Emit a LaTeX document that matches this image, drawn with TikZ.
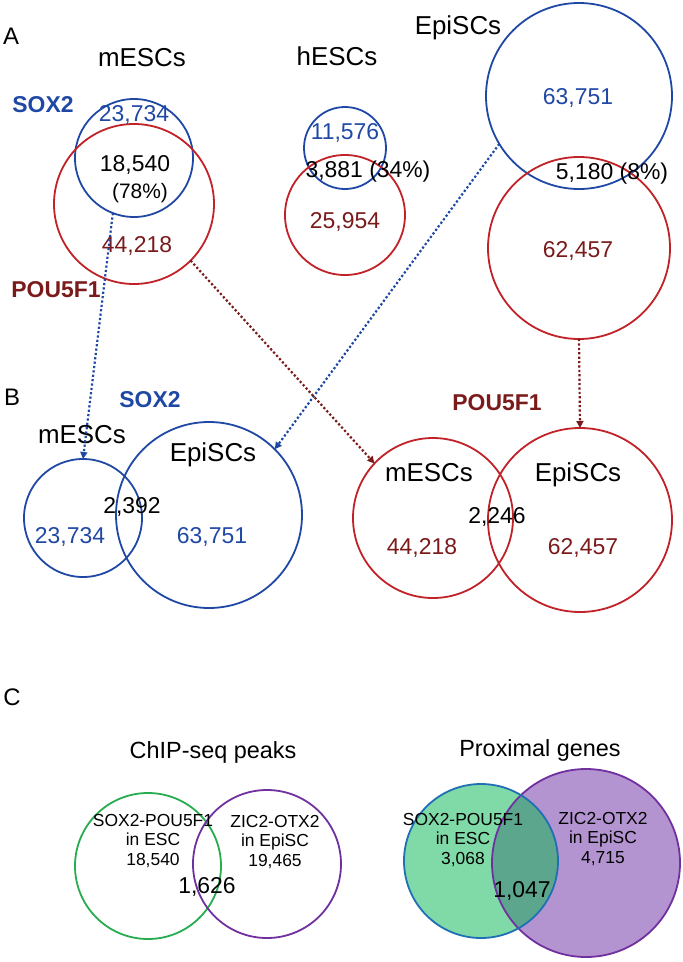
\documentclass[tikz,border=0pt]{standalone}
\usepackage{fontspec}
\setmainfont{Liberation Sans}
\usetikzlibrary{arrows.meta}

\definecolor{soxblue}{RGB}{31,72,165}
\definecolor{pouring}{RGB}{192,34,40}
\definecolor{poutext}{RGB}{122,26,26}
\definecolor{cgreen}{RGB}{40,172,80}
\definecolor{cpurple}{RGB}{112,48,160}
\definecolor{gfill}{RGB}{128,218,168}
\definecolor{vfill}{RGB}{180,148,208}
\definecolor{ofill}{RGB}{92,166,142}
\definecolor{gborder}{RGB}{31,111,181}

\tikzset{
  ring/.style={circle,inner sep=0pt,outer sep=0pt,line width=1.8bp,minimum size=#1},
  soxring/.style={ring=#1,draw=soxblue},
  pouring/.style={ring=#1,draw=pouring},
  lett/.style={font=\fontsize{24}{28}\selectfont},
  head/.style={font=\fontsize{26}{31}\selectfont},
  num/.style={font=\fontsize{23}{27}\selectfont},
  soxnum/.style={num,text=soxblue},
  pounum/.style={num,text=poutext},
  tfsox/.style={font=\fontsize{23}{27}\bfseries\selectfont,text=soxblue},
  tfpou/.style={font=\fontsize{23}{27}\bfseries\selectfont,text=poutext},
  small/.style={font=\fontsize{17.5}{19.5}\selectfont,align=center},
  link/.style={line width=2.2bp,dash pattern=on 2.2bp off 2.2bp,-{Triangle[length=7bp,width=7bp]}}
}

\begin{document}
\begin{tikzpicture}[x=1bp,y=-1bp]
\useasboundingbox (0,0) rectangle (683,962);

% panel A
\node[lett] (lA) at (11,36) {A};
\node[head] (hm) at (142,58) {mESCs};
\node[head] (hh) at (337,56) {hESCs};
\node[head] (he) at (458,28) {EpiSCs};
\node[tfsox] (sA) at (43,105) {SOX2};
\node[tfpou] (pA) at (56,290) {POU5F1};

\node[soxring=118bp] (mS) at (134,158) {};
\node[pouring=160bp] (mP) at (134,204) {};
\node[soxring=82bp] (hS) at (345,148) {};
\node[pouring=120bp] (hP) at (345,215) {};
\node[soxring=186bp] (eS) at (579,96) {};
\node[pouring=182bp] (eP) at (579,248) {};

\node[soxnum] (mSn) at (134,115) {23,734};
\node[num] (mOn) at (135,165) {18,540};
\node[num,font=\fontsize{21}{25}\selectfont] (mOp) at (140,193) {(78\%)};
\node[pounum] (mPn) at (137,246) {44,218};
\node[soxnum] (hSn) at (345,133) {11,576};
\node[num] (hOn) at (368,172) {3,881 (34\%)};
\node[pounum] (hPn) at (345,222) {25,954};
\node[soxnum] (eSn) at (578,98) {63,751};
\node[num] (eOn) at (612,174) {5,180 (8\%)};
\node[pounum] (ePn) at (578,251) {62,457};

% panel B
\node[lett] (lB) at (12,397) {B};
\node[tfsox] (sB) at (150,400) {SOX2};
\node[tfpou] (pB) at (497,403) {POU5F1};

\node[soxring=118bp] (bSm) at (83,518) {};
\node[soxring=186bp] (bSe) at (209,515) {};
\node[pouring=160bp] (bPm) at (433,518) {};
\node[pouring=184bp] (bPe) at (580,520) {};

\node[head] (bSmh) at (82,435) {mESCs};
\node[head] (bSeh) at (213,455) {EpiSCs};
\node[num] (bSo) at (132,507) {2,392};
\node[soxnum] (bSmn) at (70,537) {23,734};
\node[soxnum] (bSen) at (212,537) {63,751};
\node[head] (bPmh) at (429,473) {mESCs};
\node[head] (bPeh) at (578,475) {EpiSCs};
\node[num] (bPo) at (497,517) {2,246};
\node[pounum] (bPmn) at (422,548) {44,218};
\node[pounum] (bPen) at (583,548) {62,457};

\draw[link,soxblue] (mS.249) -- (bSm.90);
\draw[link,soxblue] (eS.211) -- (bSe.45);
\draw[link,poutext] (mP.315) -- (bPm.137);
\draw[link,poutext] (eP.270) -- (bPe.90);

% panel C
\node[lett] (lC) at (12,697) {C};
\node[font=\fontsize{23.5}{27}\selectfont] (tpk) at (213,752) {ChIP-seq peaks};
\node[font=\fontsize{23.5}{27}\selectfont] (tgn) at (540,750) {Proximal genes};

\node[ring=146bp,draw=cgreen] (cg) at (148,866) {};
\node[ring=148bp,draw=cpurple] (cv) at (267,864) {};

\node[ring=188bp,fill=vfill] (pv) at (586,863) {};
\node[ring=154bp,fill=gfill] (pg) at (481,861) {};
\begin{scope}
  \clip (481,861) circle[radius=77bp];
  \fill[ofill] (586,863) circle[radius=94bp];
\end{scope}
\draw[line width=1.8bp,cpurple] (pv) circle[radius=94bp];
\draw[line width=1.8bp,gborder] (pg) circle[radius=77bp];

\node[small] (cgt) at (153,841) {SOX2-POU5F1\\in ESC\\18,540};
\node[small] (cvt) at (275,842) {ZIC2-OTX2\\in EpiSC\\19,465};
\node[num] (co) at (207,887) {1,626};
\node[small] (pgt) at (463,840) {SOX2-POU5F1\\in ESC\\3,068};
\node[small] (pvt) at (603,839) {ZIC2-OTX2\\in EpiSC\\4,715};
\node[num] (po) at (522,891) {1,047};
\end{tikzpicture}
\end{document}
